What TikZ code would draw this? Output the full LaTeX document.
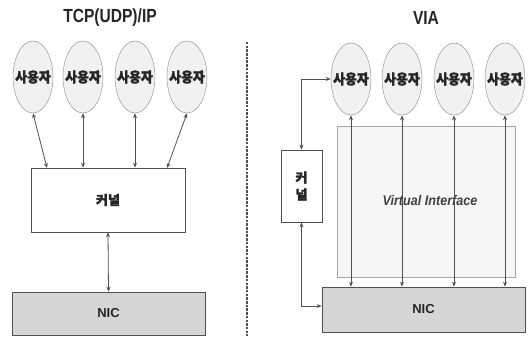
\documentclass[tikz,border=0pt]{standalone}
\usepackage{fontspec}
\usepackage{graphicx}
\setmainfont{Liberation Sans}
\newfontfamily\kr{Noto Sans CJK KR}[FakeBold=2]
\usetikzlibrary{arrows.meta,shapes.geometric}
\definecolor{linec}{HTML}{505050}
\definecolor{ellfill}{HTML}{F1F1F1}
\definecolor{nicfill}{HTML}{D6D6D6}
\definecolor{vifill}{HTML}{F6F6F6}
\newcommand{\usr}{\makebox[0pt]{\scalebox{0.92}[1]{사용자}}}
\tikzset{
  user/.style={ellipse, draw=gray!80, line width=0.5pt, fill=ellfill, minimum width=40pt, minimum height=72pt, inner sep=0pt, font=\kr\bfseries\fontsize{14}{14}\selectfont, text=black!85},
  kbox/.style={draw=linec, line width=0.6pt, fill=white, inner sep=0pt, font=\kr\bfseries\fontsize{13}{13}\selectfont, text=black!85},
  nicbox/.style={draw=linec, line width=0.6pt, fill=nicfill, inner sep=0pt, font=\bfseries\fontsize{13}{13}\selectfont, text=black!85},
  vibox/.style={draw=gray!70, line width=0.5pt, fill=vifill, inner sep=0pt},
  conn/.style={draw=linec, line width=0.8pt, {Stealth[length=5pt,width=4pt]}-{Stealth[length=5pt,width=4pt]}},
  ttl/.style={font=\bfseries\fontsize{19}{19}\selectfont, text=black!85},
}
\begin{document}
\begin{tikzpicture}[x=1pt,y=-1pt]
\useasboundingbox (0,0) rectangle (528,337);
% titles
\node[ttl] (t1) at (110,18) {\scalebox{0.82}[1]{TCP(UDP)/IP}};
\node[ttl] (t2) at (426,18) {\scalebox{0.82}[1]{VIA}};
% divider
\draw[draw=linec, line width=1.1pt, dash pattern=on 2.5pt off 1.2pt] (247,42) -- (247,336);
% left side
\node[user] (u1) at (33,77) {\usr};
\node[user] (u2) at (83,77) {\usr};
\node[user] (u3) at (135,77) {\usr};
\node[user] (u4) at (187,77) {\usr};
\node[kbox, minimum width=154pt, minimum height=64pt] (k1) at (108,200) {커널};
\node[nicbox, minimum width=193pt, minimum height=43pt] (n1) at (108.5,313.5) {NIC};
\coordinate (k1a) at (47,168);
\coordinate (k1d) at (167,168);
\draw[conn] (u1.south) -- (k1a);
\draw[conn] (u2.south) -- (u2.south |- k1.north);
\draw[conn] (u3.south) -- (u3.south |- k1.north);
\draw[conn] (u4.south) -- (k1d);
\draw[conn] (k1.south) -- (n1.north);
% right side
\node[vibox, minimum width=178pt, minimum height=151pt] (vi) at (426,201.5) {};
\node[font=\bfseries\itshape\fontsize{14}{14}\selectfont, text=black!75] (vit) at (430,200) {\scalebox{0.9}[1]{Virtual Interface}};
\node[user] (v1) at (351,79) {\usr};
\node[user] (v2) at (402,79) {\usr};
\node[user] (v3) at (454,79) {\usr};
\node[user] (v4) at (505,79) {\usr};
\node[nicbox, minimum width=203pt, minimum height=45pt] (n2) at (423.5,309.5) {NIC};
\node[kbox, minimum width=41pt, minimum height=72pt, align=center, font=\kr\bfseries\fontsize{13}{17}\selectfont] (k2) at (301.5,186) {커\\널};
\draw[conn] (v1.south) -- (v1.south |- n2.north);
\draw[conn] (v2.south) -- (v2.south |- n2.north);
\draw[conn] (v3.south) -- (v3.south |- n2.north);
\draw[conn] (v4.south) -- (v4.south |- n2.north);
\draw[conn] (v1.west) -| (k2.north);
\draw[conn] (k2.south) |- (n2.west |- 0,306);
\end{tikzpicture}
\end{document}
